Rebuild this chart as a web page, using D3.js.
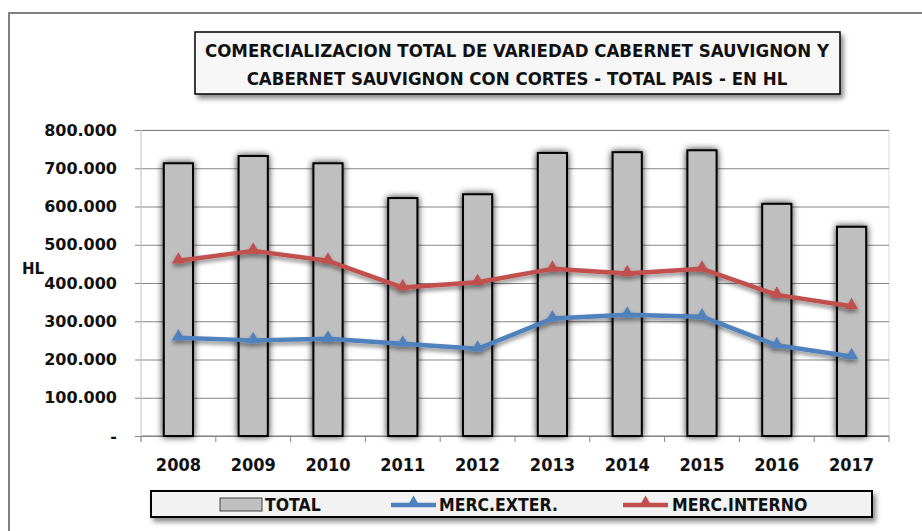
<!DOCTYPE html>
<html>
<head>
<meta charset="utf-8">
<script src="https://cdn.jsdelivr.net/npm/d3@7"></script>
<style>
  body { margin: 0; background: #fff; }
  svg { display: block; }
  .cond { font-family: "DejaVu Sans Condensed", "DejaVu Sans", sans-serif; font-stretch: condensed; font-weight: bold; }
  .wide { font-family: "DejaVu Sans", Verdana, sans-serif; font-weight: bold; }
</style>
</head>
<body>
<svg id="chart" width="922" height="531"></svg>
<script>
// Data (HL)
var years = ['2008', '2009', '2010', '2011', '2012', '2013', '2014', '2015', '2016', '2017'];
var total = [713000, 732000, 713000, 622000, 632000, 740000, 742000, 747000, 607000, 547000];
var mercExter = [257000, 250000, 254000, 241000, 228000, 307000, 317000, 312000, 237000, 208000];
var mercInterno = [458000, 484000, 458000, 388000, 402000, 437000, 425000, 437000, 369000, 339000];
var yTicks = [0, 100000, 200000, 300000, 400000, 500000, 600000, 700000, 800000];

var titleLines = ['COMERCIALIZACION TOTAL DE VARIEDAD CABERNET SAUVIGNON Y',
                  'CABERNET SAUVIGNON CON CORTES - TOTAL PAIS - EN HL'];
var legendNames = ['TOTAL', 'MERC.EXTER.', 'MERC.INTERNO'];

var blue = '#4f81bd';
var red = '#c0504d';

var svg = d3.select('#chart');

// Plot area
var plot = {left: 141, right: 889, top: 130, bottom: 436};

var x = d3.scaleBand()
  .domain(years)
  .range([plot.left, plot.right])
  .padding(0);

var y = d3.scaleLinear()
  .domain([0, 800000])
  .range([plot.bottom, plot.top]);

// numbers like 800.000, zero shown as "-"
var locale = d3.formatLocale({decimal: ',', thousands: '.', grouping: [3], currency: ['$', '']});
var fmt = locale.format(',.0f');

// Filters for the soft shadows
var defs = svg.append('defs');

defs.append('filter').attr('id', 'boxShadow')
  .attr('x', '-10%').attr('y', '-30%').attr('width', '120%').attr('height', '170%')
  .append('feDropShadow')
  .attr('dx', 3).attr('dy', 4).attr('stdDeviation', 2.5)
  .attr('flood-color', '#000').attr('flood-opacity', 0.45);

defs.append('filter').attr('id', 'barShadow')
  .attr('x', '-60%').attr('y', '-10%').attr('width', '220%').attr('height', '120%')
  .append('feDropShadow')
  .attr('dx', 0).attr('dy', 0).attr('stdDeviation', 3.5)
  .attr('flood-color', '#000').attr('flood-opacity', 0.85);

defs.append('filter').attr('id', 'lineShadow')
  .attr('x', '-10%').attr('y', '-30%').attr('width', '120%').attr('height', '170%')
  .append('feDropShadow')
  .attr('dx', 0).attr('dy', 3).attr('stdDeviation', 2)
  .attr('flood-color', '#000').attr('flood-opacity', 0.45);

// Outer chart border (runs off the right and bottom)
svg.append('path')
  .attr('d', 'M9,540 V13 H930')
  .attr('fill', 'none')
  .attr('stroke', '#808080')
  .attr('stroke-width', 2);

// Title box
var titleG = svg.append('g');
titleG.append('rect')
  .attr('x', 195).attr('y', 32)
  .attr('width', 645).attr('height', 62)
  .attr('fill', '#f7f7f7')
  .attr('stroke', '#000')
  .attr('stroke-width', 1.5)
  .attr('filter', 'url(#boxShadow)');

titleG.selectAll('text')
  .data(titleLines)
  .join('text')
  .attr('class', 'cond')
  .attr('x', 517)
  .attr('y', function(d, i) { return 57 + i * 28; })
  .attr('text-anchor', 'middle')
  .attr('font-size', 18.5)
  .attr('fill', '#111')
  .text(function(d) { return d; });

// Plot area border
svg.append('rect')
  .attr('x', plot.left).attr('y', plot.top)
  .attr('width', plot.right - plot.left)
  .attr('height', plot.bottom - plot.top)
  .attr('fill', 'none')
  .attr('stroke', '#d9d9d9')
  .attr('stroke-width', 1);

// Y axis with gridlines
var yAxis = svg.append('g')
  .attr('transform', 'translate(' + plot.left + ',0)')
  .call(d3.axisLeft(y)
    .tickValues(yTicks)
    .tickSize(-(plot.right - plot.left))
    .tickPadding(24)
    .tickFormat(function(d) { return d === 0 ? '-' : fmt(d); }));

yAxis.select('.domain').remove();
yAxis.selectAll('.tick line')
  .attr('x1', -6)
  .attr('stroke', '#868686');
yAxis.selectAll('.tick text')
  .attr('class', 'wide')
  .attr('font-size', 16)
  .attr('fill', '#111');

// left axis line
svg.append('line')
  .attr('x1', plot.left).attr('x2', plot.left)
  .attr('y1', plot.top).attr('y2', plot.bottom + 6)
  .attr('stroke', '#d0d0d0');

// X axis (ticks on category boundaries)
var xBoundaries = years.map(function(d) { return x(d); }).concat([x(years[years.length - 1]) + x.bandwidth()]);
svg.append('g')
  .selectAll('line')
  .data(xBoundaries)
  .join('line')
  .attr('x1', function(d) { return d; })
  .attr('x2', function(d) { return d; })
  .attr('y1', plot.bottom)
  .attr('y2', plot.bottom + 6)
  .attr('stroke', '#868686');

svg.append('line')
  .attr('x1', plot.left).attr('x2', plot.right)
  .attr('y1', plot.bottom).attr('y2', plot.bottom)
  .attr('stroke', '#868686');

svg.append('g')
  .selectAll('text')
  .data(years)
  .join('text')
  .attr('class', 'cond')
  .attr('x', function(d) { return x(d) + x.bandwidth() / 2; })
  .attr('y', 471)
  .attr('text-anchor', 'middle')
  .attr('font-size', 18)
  .attr('fill', '#111')
  .text(function(d) { return d; });

// Y axis title
svg.append('text')
  .attr('class', 'wide')
  .attr('x', 33)
  .attr('y', 274)
  .attr('text-anchor', 'middle')
  .attr('font-size', 15)
  .attr('fill', '#111')
  .text('HL');

// Bars for TOTAL
var barW = x.bandwidth() * 0.39;
svg.append('g')
  .selectAll('rect')
  .data(total)
  .join('rect')
  .attr('x', function(d, i) { return x(years[i]) + (x.bandwidth() - barW) / 2; })
  .attr('y', function(d) { return y(d); })
  .attr('width', barW)
  .attr('height', function(d) { return plot.bottom - y(d); })
  .attr('fill', '#bfbfbf')
  .attr('stroke', '#000')
  .attr('stroke-width', 2)
  .attr('filter', 'url(#barShadow)');

// Lines with triangle markers
var line = d3.line()
  .x(function(d, i) { return x(years[i]) + x.bandwidth() / 2; })
  .y(function(d) { return y(d); });

var triangle = d3.symbol().type(d3.symbolTriangle).size(75);

function drawSeries(values, color) {
  var g = svg.append('g').attr('filter', 'url(#lineShadow)');
  g.append('path')
    .datum(values)
    .attr('d', line)
    .attr('fill', 'none')
    .attr('stroke', color)
    .attr('stroke-width', 4.5)
    .attr('stroke-linejoin', 'round');
  g.selectAll('path.mark')
    .data(values)
    .join('path')
    .attr('class', 'mark')
    .attr('d', triangle)
    .attr('transform', function(d, i) {
      return 'translate(' + (x(years[i]) + x.bandwidth() / 2) + ',' + (y(d) - 1) + ')';
    })
    .attr('fill', color);
}

drawSeries(mercExter, blue);
drawSeries(mercInterno, red);

// Legend
var legend = svg.append('g');
legend.append('rect')
  .attr('x', 151).attr('y', 491)
  .attr('width', 721).attr('height', 26)
  .attr('fill', '#f2f2f2')
  .attr('stroke', '#000')
  .attr('stroke-width', 2)
  .attr('filter', 'url(#boxShadow)');

// TOTAL swatch
legend.append('rect')
  .attr('x', 220).attr('y', 498)
  .attr('width', 42).attr('height', 13)
  .attr('fill', '#bfbfbf')
  .attr('stroke', '#404040')
  .attr('stroke-width', 1);

// line swatches
var lineSwatches = [{x: 391, color: blue}, {x: 623, color: red}];
lineSwatches.forEach(function(s) {
  legend.append('line')
    .attr('x1', s.x).attr('x2', s.x + 45)
    .attr('y1', 505).attr('y2', 505)
    .attr('stroke', s.color)
    .attr('stroke-width', 4.5);
  legend.append('path')
    .attr('d', triangle)
    .attr('transform', 'translate(' + (s.x + 22.5) + ',503)')
    .attr('fill', s.color);
});

var legendTextX = [265, 439, 672];
legend.selectAll('text')
  .data(legendNames)
  .join('text')
  .attr('class', 'cond')
  .attr('x', function(d, i) { return legendTextX[i]; })
  .attr('y', 511)
  .attr('font-size', 17.5)
  .attr('fill', '#111')
  .text(function(d) { return d; });
</script>
</body>
</html>
